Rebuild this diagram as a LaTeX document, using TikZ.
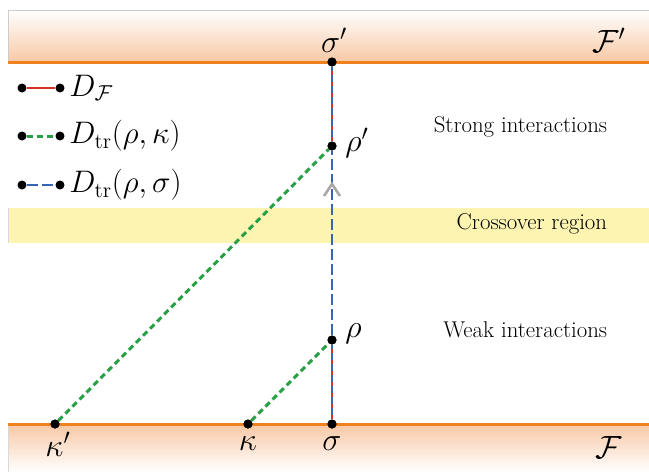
\documentclass[tikz,border=0pt]{standalone}
\usepackage{amsmath}
\usetikzlibrary{calc}
\begin{document}
\begin{tikzpicture}[x=1pt,y=-1pt,
  dot/.style={circle,fill=black,inner sep=0pt,minimum size=9pt},
  mlabel/.style={font=\fontsize{20.74}{24}\selectfont,scale=1.55},
  leglabel/.style={font=\fontsize{20.74}{24}\selectfont,scale=1.5,anchor=west},
  region/.style={font=\fontsize{20.74}{24}\selectfont,scale=1.1,anchor=east},
  fline/.style={draw=orangeline,line width=3pt},
  dred/.style={draw=myred,line width=2.2pt},
  dgreen/.style={draw=mygreen,line width=3pt,dash pattern=on 6pt off 4pt},
  dblue/.style={draw=myblue,line width=2.4pt,dash pattern=on 11pt off 4pt},
  bluered/.style={draw=myblue,line width=2.8pt},
  redover/.style={draw=myred,line width=1.6pt,dash pattern=on 4pt off 7pt}]
\definecolor{orangeline}{RGB}{238,130,30}
\definecolor{peach}{RGB}{248,200,165}
\definecolor{myred}{RGB}{215,50,40}
\definecolor{mygreen}{RGB}{40,160,70}
\definecolor{myblue}{RGB}{55,100,180}
\definecolor{crossy}{RGB}{253,244,178}
\useasboundingbox (0,0) rectangle (649,472);
% bands
\shade[top color=white,bottom color=peach] (8,10) rectangle (649,62);
\draw[gray!40,line width=0.8pt] (8,62) -- (8,10) -- (649,10);
\shade[top color=peach,bottom color=white] (8,424) rectangle (649,472);
\draw[gray!30,line width=0.8pt] (8,424) -- (8,472);
\fill[crossy] (8,208) rectangle (649,243);
\draw[gray!30,line width=0.6pt] (8,243) -- (8,208);
\draw[fline] (8,62) -- (649,62);
\draw[fline] (8,424) -- (649,424);
% points
\node[dot] (sp) at (332,62) {};
\node[dot] (rp) at (332,146) {};
\node[dot] (r) at (332,340) {};
\node[dot] (s) at (332,424) {};
\node[dot] (kp) at (55,424) {};
\node[dot] (k) at (248,424) {};
% connectors
\draw[bluered] (s) -- (r);
\draw[redover] (s) -- (r);
\draw[dblue] (r) -- (rp);
\draw[bluered] (rp) -- (sp);
\draw[redover] (rp) -- (sp);
\draw[dgreen] (kp) -- (rp);
\draw[dgreen] (k) -- (r);
\coordinate (arrtip) at (332,184);
\draw[gray!70,line width=2.6pt] ($(arrtip)+(-8,12)$) -- (arrtip) -- ($(arrtip)+(8,12)$);
% redraw dots on top
\foreach \n in {sp,rp,r,s,kp,k} \fill (\n) circle (4.5pt);
% labels
\node[mlabel] (lsp) at (334,40) {$\sigma'$};
\node[mlabel] (lFp) at (609,40) {$\mathcal{F}'$};
\node[mlabel,anchor=west] (lrp) at (340,143) {$\rho'$};
\node[mlabel,anchor=west] (lr) at (340,334) {$\rho$};
\node[mlabel] (lkp) at (58,444) {$\kappa'$};
\node[mlabel] (lk) at (248,444) {$\kappa$};
\node[mlabel] (ls) at (332,444) {$\sigma$};
\node[mlabel] (lF) at (609,448) {$\mathcal{F}$};
% legend
\node[dot] (a1) at (22,88) {};
\node[dot] (b1) at (60,88) {};
\draw[dred] (a1) -- (b1);
\node[leglabel] (t1) at (64,88) {$D_{\mathcal{F}}$};
\node[dot] (a2) at (22,136) {};
\node[dot] (b2) at (60,136) {};
\draw[dgreen] (a2) -- (b2);
\node[leglabel] (t2) at (64,136) {$D_{\mathrm{tr}}(\rho,\kappa)$};
\node[dot] (a3) at (22,185) {};
\node[dot] (b3) at (60,185) {};
\draw[dblue] (a3) -- (b3);
\node[leglabel] (t3) at (64,185) {$D_{\mathrm{tr}}(\rho,\sigma)$};
% region texts
\node[region] (strong) at (611,127) {Strong interactions};
\node[region] (cross) at (611,224) {Crossover region};
\node[region] (weak) at (611,330) {Weak interactions};
\end{tikzpicture}
\end{document}
